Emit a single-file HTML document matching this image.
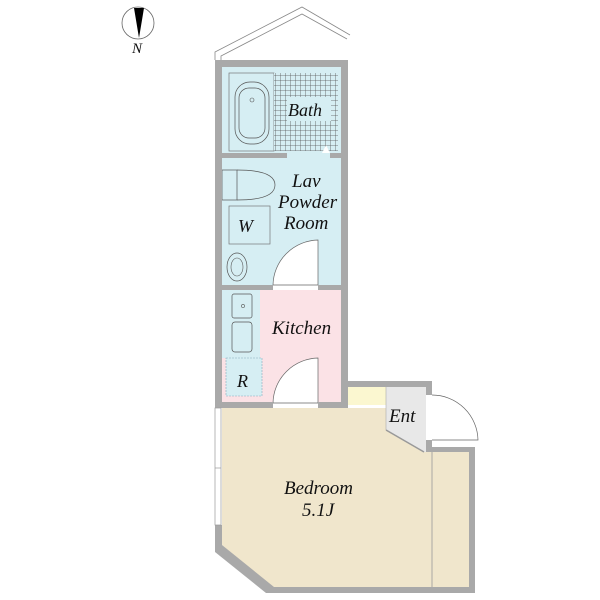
<!DOCTYPE html>
<html><head><meta charset="utf-8"><style>
html,body{margin:0;padding:0;background:#fff;}
svg{display:block}
text{font-family:"Liberation Serif",serif;font-style:italic;fill:#111;}
</style></head><body>
<svg width="600" height="600" viewBox="0 0 600 600" xmlns="http://www.w3.org/2000/svg">
<defs>
<pattern id="tile" width="5" height="5" patternUnits="userSpaceOnUse">
<rect width="5" height="5" fill="#d6eef3"/>
<path d="M0 0H5M0 0V5" stroke="#555" stroke-width="0.8"/>
</pattern>
</defs>
<circle cx="138" cy="23" r="16" fill="none" stroke="#666" stroke-width="0.8"/>
<polygon points="134,8 144,8 139,38" fill="#000"/>
<text x="132" y="53" font-size="15">N</text>
<polyline points="215,60 215,52 302,7 350,35" fill="none" stroke="#888" stroke-width="0.8"/>
<polyline points="221,60 221,56 302,14 347,39" fill="none" stroke="#888" stroke-width="0.8"/>
<rect x="222" y="67" width="119" height="218" fill="#d6eef3"/>
<rect x="222" y="290" width="119" height="113" fill="#fbe2e6"/>
<rect x="222" y="290" width="38" height="68" fill="#d6eef3"/>
<rect x="226" y="358" width="36" height="38" fill="#d6eef3" stroke="#8ab" stroke-width="0.6" stroke-dasharray="2,1"/>
<rect x="348" y="387" width="38" height="18" fill="#fbf7d0"/>
<polygon points="386,387 426,387 426,452 424,452 386,430" fill="#e8e8e8"/>
<polygon points="222,408 386,408 386,430 424,452 469,452 469,587 272,587 222,545" fill="#f0e6cc"/>
<line x1="432" y1="452" x2="432" y2="587" stroke="#999" stroke-width="0.8"/>
<rect x="229" y="73" width="45" height="78" fill="none" stroke="#777" stroke-width="0.7"/>
<rect x="274" y="73" width="64" height="78" fill="url(#tile)"/>
<rect x="287" y="97" width="44" height="24" fill="#d6eef3"/>
<rect x="235" y="82" width="34" height="62" rx="15" fill="none" stroke="#555" stroke-width="0.7"/>
<rect x="239" y="88" width="26" height="50" rx="10" fill="none" stroke="#555" stroke-width="0.7"/>
<circle cx="252" cy="100" r="2" fill="none" stroke="#555" stroke-width="0.6"/>
<polygon points="322,153 330,153 326,145" fill="#fff"/>
<text x="288" y="116" font-size="18">Bath</text>
<rect x="222" y="170" width="15" height="30" fill="none" stroke="#555" stroke-width="0.7"/>
<path d="M237 170 Q275 170 275 185 Q275 200 237 200" fill="none" stroke="#555" stroke-width="0.7"/>
<rect x="229" y="206" width="41" height="38" fill="none" stroke="#777" stroke-width="0.7"/>
<text x="238" y="232" font-size="18">W</text>
<ellipse cx="237" cy="267" rx="10" ry="14" fill="none" stroke="#555" stroke-width="0.7"/>
<ellipse cx="237" cy="267" rx="6" ry="9" fill="none" stroke="#555" stroke-width="0.6"/>
<text x="292" y="187" font-size="19">Lav</text>
<text x="278" y="208" font-size="19">Powder</text>
<text x="284" y="229" font-size="19">Room</text>
<path d="M273 285 A46 46 0 0 1 318 240 L318 285 Z" fill="#fff" stroke="#666" stroke-width="0.7"/>
<rect x="232" y="294" width="20" height="24" rx="2" fill="none" stroke="#555" stroke-width="0.7"/>
<circle cx="243" cy="306" r="1.6" fill="none" stroke="#555" stroke-width="0.6"/>
<rect x="232" y="322" width="20" height="30" rx="3" fill="none" stroke="#555" stroke-width="0.7"/>
<text x="237" y="387" font-size="18">R</text>
<text x="272" y="334" font-size="19">Kitchen</text>
<path d="M273 403 A46 46 0 0 1 318 358 L318 403 Z" fill="#fff" stroke="#666" stroke-width="0.7"/>
<g fill="#a9a9a9">
<rect x="215" y="60" width="133" height="7"/>
<rect x="215" y="60" width="7" height="348"/>
<rect x="341" y="60" width="7" height="348"/>
<rect x="222" y="153" width="65" height="5"/>
<rect x="330" y="153" width="11" height="5"/>
<rect x="222" y="285" width="51" height="5"/>
<rect x="318" y="285" width="23" height="5"/>
<rect x="222" y="402" width="51" height="6"/>
<rect x="318" y="402" width="30" height="6"/>
<rect x="341" y="381" width="91" height="6"/>
<rect x="426" y="381" width="6" height="14"/>
<rect x="426" y="440" width="6" height="12"/>
<rect x="426" y="447" width="49" height="5"/>
<rect x="469" y="447" width="6" height="146"/>
<rect x="272" y="587" width="203" height="6"/>
<rect x="215" y="525" width="7" height="20"/>
<polygon points="215,545 222,545 274,587 272,593 266,593 215,552"/>
</g>
<rect x="215" y="408" width="6" height="117" fill="#fff" stroke="#999" stroke-width="0.7"/>
<line x1="215" y1="468" x2="221" y2="468" stroke="#999" stroke-width="0.7"/>
<line x1="386" y1="430" x2="424" y2="452" stroke="#999" stroke-width="1.5"/>
<line x1="386" y1="387" x2="386" y2="430" stroke="#aaa" stroke-width="0.6"/>
<path d="M432 395 A46 46 0 0 1 478 440 L432 440" fill="#fff" stroke="#666" stroke-width="0.7"/>
<text x="389" y="422" font-size="19">Ent</text>
<text x="284" y="494" font-size="19">Bedroom</text>
<text x="302" y="516" font-size="19">5.1J</text>
</svg>
</body></html>
